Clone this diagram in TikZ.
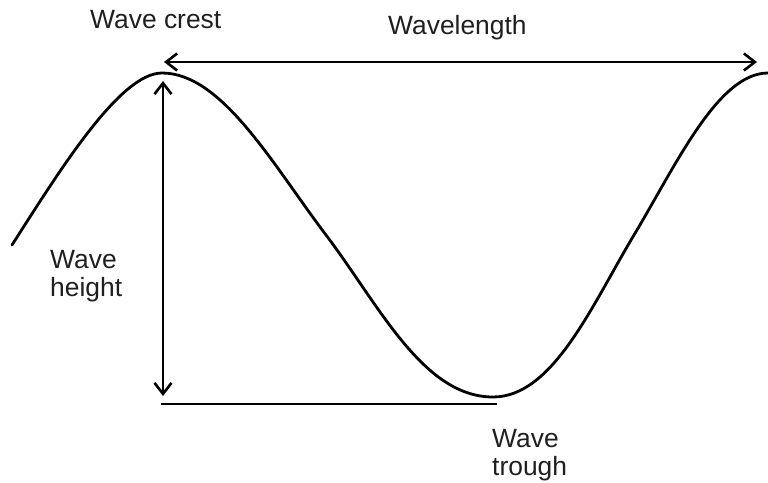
\documentclass[tikz,border=0pt]{standalone}
\usepackage{fontspec}
\setmainfont{Liberation Sans}
\usetikzlibrary{arrows.meta}
\tikzset{wave/.style={line width=2.8pt,line cap=round},
 dim/.style={{Straight Barb[length=11pt,width=17pt]}-{Straight Barb[length=11pt,width=17pt]},line width=2.6pt},
 base/.style={line width=2.6pt},
 lbl/.style={inner sep=0pt,align=left,text=black!88,font=\fontsize{26.4}{28}\selectfont}}
\begin{document}
\begin{tikzpicture}[x=1pt,y=-1pt]
\useasboundingbox (0,0) rectangle (768,482);
\coordinate (w0) at (12,245);\coordinate (crestL) at (162,73);
\coordinate (w1) at (326,235);\coordinate (trough) at (493,397);
\coordinate (w2) at (634,235);\coordinate (crestR) at (768,73);
\draw[wave](w0) .. controls (60,170) and (120,73) .. (crestL)
 .. controls (222,73) and (273,165) .. (w1)
 .. controls (379,305) and (423,397) .. (trough)
 .. controls (553,397) and (592,305) .. (w2)
 .. controls (676,165) and (718,73) .. (crestR);
\coordinate (lenL) at (164,62);\coordinate (lenR) at (757,62);
\draw[dim](lenL)--(lenR);
\coordinate (hT) at (163,81);\coordinate (hB) at (163,396);
\draw[dim](hT)--(hB);
\coordinate (bL) at (161,404);\coordinate (bR) at (497,404);
\draw[base](bL)--(bR);
\node[lbl,anchor=base west](crest) at (90,28){Wave crest};
\node[lbl,anchor=base west](length) at (388,34){Wavelength};
\node[lbl,anchor=north west](height) at (50,250){Wave\\height};
\node[lbl,anchor=north west](troughlbl) at (492,429){Wave\\trough};
\end{tikzpicture}
\end{document}
